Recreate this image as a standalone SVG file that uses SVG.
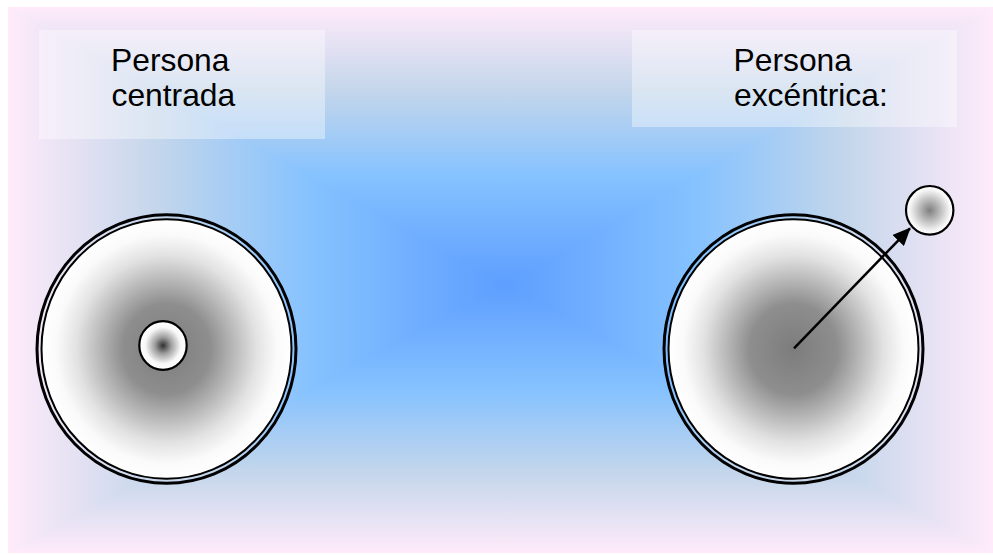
<svg xmlns="http://www.w3.org/2000/svg" width="993" height="555" viewBox="0 0 993 555">
  <defs>
    <linearGradient id="gTop" gradientUnits="userSpaceOnUse" x1="0" y1="7" x2="0" y2="285">
      <stop offset="0" stop-color="#FFEBFA"/><stop offset="0.30" stop-color="#C4D6EB"/><stop offset="0.61" stop-color="#85C2FF"/><stop offset="1" stop-color="#5E9EFF"/>
    </linearGradient>
    <linearGradient id="gBot" gradientUnits="userSpaceOnUse" x1="0" y1="553" x2="0" y2="285">
      <stop offset="0" stop-color="#FFEBFA"/><stop offset="0.30" stop-color="#C4D6EB"/><stop offset="0.61" stop-color="#85C2FF"/><stop offset="1" stop-color="#5E9EFF"/>
    </linearGradient>
    <linearGradient id="gLeft" gradientUnits="userSpaceOnUse" x1="8" y1="0" x2="505" y2="0">
      <stop offset="0" stop-color="#FFEBFA"/><stop offset="0.30" stop-color="#C4D6EB"/><stop offset="0.61" stop-color="#85C2FF"/><stop offset="1" stop-color="#5E9EFF"/>
    </linearGradient>
    <linearGradient id="gRight" gradientUnits="userSpaceOnUse" x1="993" y1="0" x2="505" y2="0">
      <stop offset="0" stop-color="#FFEBFA"/><stop offset="0.30" stop-color="#C4D6EB"/><stop offset="0.61" stop-color="#85C2FF"/><stop offset="1" stop-color="#5E9EFF"/>
    </linearGradient>
    <radialGradient id="gBig" cx="0.5" cy="0.5" r="0.5">
      <stop offset="0" stop-color="#7C7C7C"/><stop offset="0.35" stop-color="#8E8E8E"/><stop offset="0.72" stop-color="#E2E2E2"/><stop offset="0.88" stop-color="#FAFAFA"/><stop offset="1" stop-color="#FFFFFF"/>
    </radialGradient>
    <radialGradient id="gDot" cx="0.5" cy="0.5" r="0.5">
      <stop offset="0" stop-color="#303030"/><stop offset="0.35" stop-color="#A0A0A0"/><stop offset="0.75" stop-color="#F8F8F8"/><stop offset="1" stop-color="#FFFFFF"/>
    </radialGradient>
    <radialGradient id="gSat" cx="0.5" cy="0.5" r="0.5">
      <stop offset="0" stop-color="#7F7F7F"/><stop offset="0.45" stop-color="#BDBDBD"/><stop offset="0.85" stop-color="#F6F6F6"/><stop offset="1" stop-color="#FFFFFF"/>
    </radialGradient>
    <clipPath id="bgClip"><rect x="8" y="7" width="985" height="546"/></clipPath>
    <marker id="arrow" markerUnits="userSpaceOnUse" markerWidth="18" markerHeight="16" viewBox="0 0 18 16" refX="17" refY="8" orient="auto">
      <path d="M0,0 L18,8 L0,16 Z" fill="#000"/>
    </marker>
    <style>
      .lbl { font-family: "Liberation Sans", Arial, sans-serif; font-size: 31.8px; fill: #000; }
      .box { fill: #FFFFFF; fill-opacity: 0.38; }
      .ring { fill: none; stroke: #000; stroke-width: 3; }
      .inner { stroke: #000; stroke-width: 2; }
      .dotline { stroke: #000; stroke-width: 2.2; }
    </style>
  </defs>

  <g id="background" clip-path="url(#bgClip)">
    <polygon points="8,7 993,7 505,285" fill="url(#gTop)" stroke="url(#gTop)" stroke-width="1"/>
    <polygon points="8,553 993,553 505,285" fill="url(#gBot)" stroke="url(#gBot)" stroke-width="1"/>
    <polygon points="8,7 8,553 505,285" fill="url(#gLeft)" stroke="url(#gLeft)" stroke-width="1"/>
    <polygon points="993,7 993,553 505,285" fill="url(#gRight)" stroke="url(#gRight)" stroke-width="1"/>
  </g>

  <g id="label-centrada">
    <rect class="box" x="39" y="30" width="286" height="109"/>
    <text class="lbl" x="111" y="70.7">Persona</text>
    <text class="lbl" x="111.5" y="106">centrada</text>
  </g>

  <g id="label-excentrica">
    <rect class="box" x="632" y="30" width="325" height="97"/>
    <text class="lbl" x="733.5" y="70.7">Persona</text>
    <text class="lbl" x="734" y="106">excéntrica:</text>
  </g>

  <g id="persona-centrada">
    <ellipse class="ring" cx="166.5" cy="349" rx="129.5" ry="134.3"/>
    <ellipse class="inner" cx="166.5" cy="349" rx="125" ry="129.8" fill="url(#gBig)"/>
    <ellipse class="dotline" cx="163" cy="345.5" rx="23.7" ry="24.3" fill="url(#gDot)"/>
  </g>

  <g id="persona-excentrica">
    <ellipse class="ring" cx="793.5" cy="349" rx="129.5" ry="134.3"/>
    <ellipse class="inner" cx="793.5" cy="349" rx="125" ry="129.8" fill="url(#gBig)"/>
  </g>

  <g id="satelite">
    <ellipse class="dotline" cx="929.7" cy="210.3" rx="23.7" ry="24.3" fill="url(#gSat)"/>
  </g>

  <g id="connectors">
    <line x1="794" y1="348.3" x2="910" y2="228.3" stroke="#000" stroke-width="2.5" marker-end="url(#arrow)"/>
  </g>
</svg>
